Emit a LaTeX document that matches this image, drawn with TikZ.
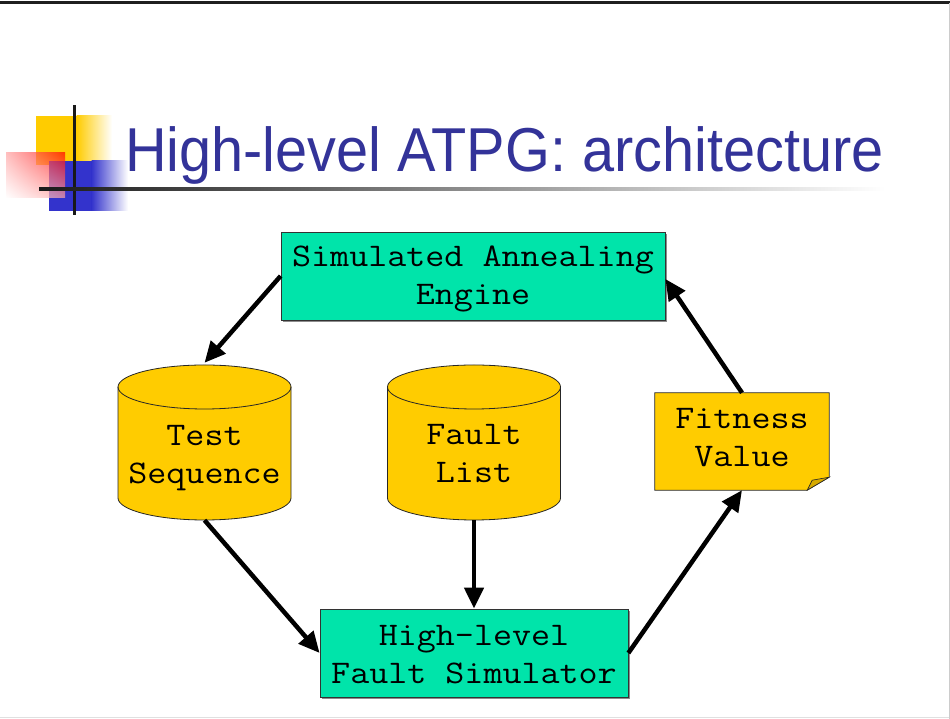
\documentclass[tikz,border=0pt]{standalone}
\usepackage{fontspec}
\setmonofont{Latin Modern Mono}[FakeStretch=1.12]
\newfontfamily\titlefont[FakeStretch=0.93]{Liberation Sans}
\usetikzlibrary{arrows.meta,shadows,shadings}
\definecolor{boxgreen}{RGB}{0,228,170}
\definecolor{dbyellow}{RGB}{255,204,0}
\definecolor{foldyellow}{RGB}{214,170,0}
\definecolor{titleblue}{RGB}{51,51,153}
\definecolor{logoblue}{RGB}{51,51,204}
\begin{document}
\begin{tikzpicture}[x=1pt,y=1pt,
  lbl/.style={font=\ttfamily\fontsize{33}{38}\selectfont, align=center, inner sep=0pt},
  procbox/.style={draw=black!80, line width=0.8pt, fill=boxgreen, inner sep=0pt,
    drop shadow={shadow xshift=1.5pt, shadow yshift=-2pt, fill=black!45, opacity=1}},
  dbfill/.style={draw=black!85, line width=0.8pt, fill=dbyellow},
  flow/.style={line width=4.5pt, -{Triangle[length=21pt,width=19pt]}},
  anchorbox/.style={draw=none, inner sep=0pt, rectangle},
  dbcyl/.pic={
    \path[dbfill] (-86.5,55.5) -- (-86.5,-55.5)
      arc[start angle=180, end angle=360, x radius=86.5, y radius=22]
      -- (86.5,55.5)
      arc[start angle=0, end angle=180, x radius=86.5, y radius=22] -- cycle;
    \draw[draw=black!85, line width=0.8pt] (-86.5,55.5)
      arc[start angle=180, end angle=360, x radius=86.5, y radius=22];
  }]

\useasboundingbox (0,0) rectangle (950,719);
\fill[white] (0,0) rectangle (950,719);

% slide frame
\fill[black!88] (0,714.5) rectangle (950,718);
\draw[black!20, line width=1pt] (949.5,0) -- (949.5,716);
\draw[black!12, line width=1pt] (0,1.5) -- (949,1.5);

% logo
\fill[dbyellow] (36,554) rectangle (77,603);
\shade[left color=dbyellow, right color=white] (76.5,554) rectangle (112,603);
\fill[logoblue] (49,508) rectangle (92,558);
\shade[left color=logoblue, right color=white] (91.5,508) rectangle (128,558);
\shade[upper right=red, upper left=red!35, lower right=red!35, lower left=white, fill opacity=0.7]
  (6,521) rectangle (65,566);
\fill[black!90] (72.5,504) rectangle (75.5,614);
\shade[left color=black!90, right color=white] (39,528) rectangle (885,531);

% title
\node[anchor=base west, inner sep=0pt, text=titleblue,
  font=\titlefont\fontsize{62}{70}\selectfont] (title) at (125,547)
  {High-level ATPG: architecture};

% process boxes
\node[procbox, minimum width=384pt, minimum height=88pt] (sa) at (473,443) {};
\node[lbl] (satext) at ([yshift=-3pt]sa.center) {Simulated Annealing\\Engine};
\node[procbox, minimum width=308pt, minimum height=88pt] (hlfs) at (474,66) {};
\node[lbl] (hlfstext) at ([yshift=-2pt]hlfs.center) {High-level\\Fault Simulator};

% data stores
\pic at (204.5,276.5) {dbcyl};
\node[anchorbox, minimum width=173pt, minimum height=155pt] (ts) at (204.5,276.5) {};
\node[lbl] (tstext) at (204.5,261) {Test\\Sequence};

\pic at (474,276.5) {dbcyl};
\node[anchorbox, minimum width=173pt, minimum height=155pt] (fl) at (474,276.5) {};
\node[lbl] (fltext) at (474,265) {Fault\\List};

% note
\node[anchorbox, minimum width=174pt, minimum height=97pt] (fv) at (742,277.5) {};
\path[dbfill] (fv.north west) -- (fv.north east) -- ([yshift=13pt]fv.south east)
  -- ([xshift=-22pt]fv.south east) -- (fv.south west) -- cycle;
\path[fill=foldyellow, draw=black!85, line width=0.6pt] ([xshift=-22pt]fv.south east)
  -- ([xshift=-17pt,yshift=10pt]fv.south east) -- ([yshift=13pt]fv.south east) -- cycle;
\node[lbl] (fvtext) at (742,281) {Fitness\\Value};

% flow
\draw[flow] (sa.west) -- ([yshift=2pt]ts.north);
\draw[flow] (ts.south) -- (hlfs.west);
\draw[flow] (fl.south) -- (hlfs.north);
\draw[flow] (hlfs.east) -- (fv.south);
\draw[flow] (fv.north) -- ([yshift=-3pt]sa.east);
\end{tikzpicture}
\end{document}
